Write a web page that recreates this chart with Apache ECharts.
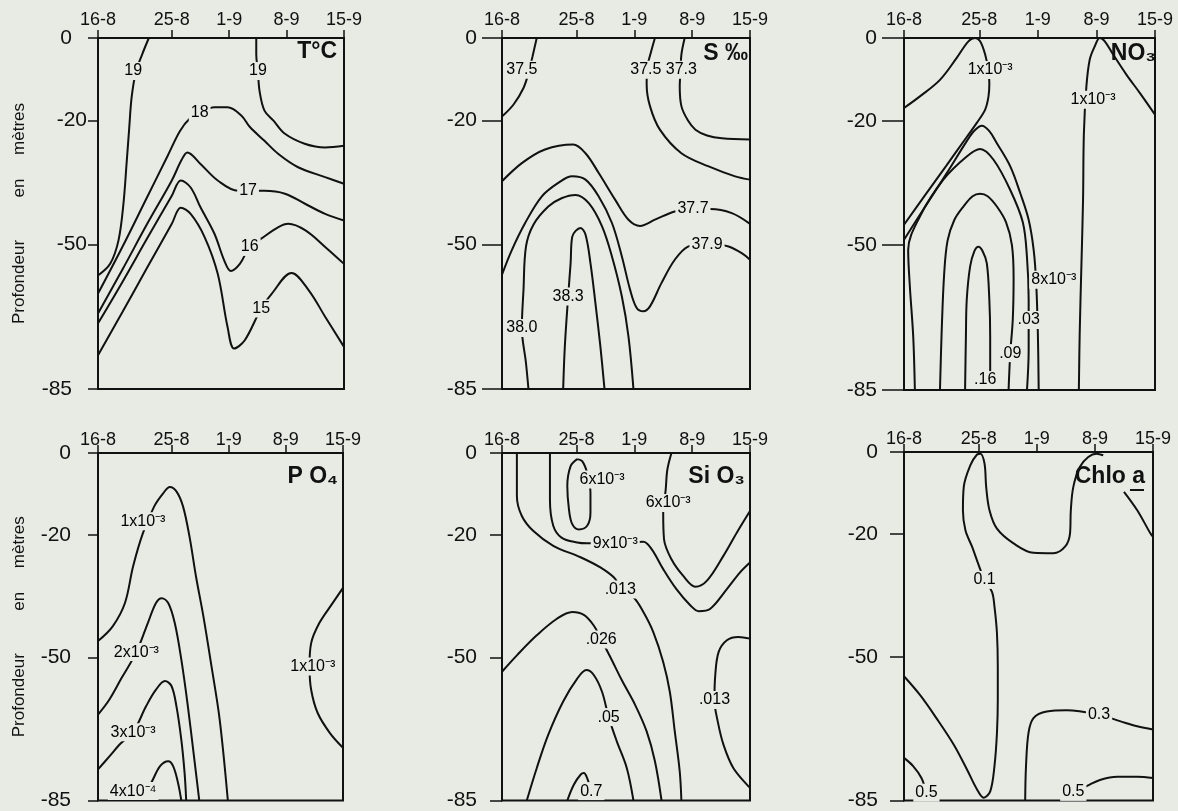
<!DOCTYPE html>
<html>
<head>
<meta charset="utf-8">
<script src="https://cdn.jsdelivr.net/npm/echarts@6/dist/echarts.min.js"></script>
<style>
html,body{margin:0;padding:0;background:#e8eae4;}
#chart{width:1178px;height:811px;}
</style>
</head>
<body>
<div id="chart"></div>
<script>
// ---- axis ticks (x = days since 16-8, y = depth in m) ----
const dayTicks = [0, 9, 16, 23, 30];
const dateLabels = ['16-8', '25-8', '1-9', '8-9', '15-9'];
const depthTicks = [0, -20, -50, -85];

// ---- Panel 1 : T°C ----
const t19a = [[6.2,0],[5.4,-3.9],[4.6,-8.4],[4.1,-14.4],[3.8,-22],[3.5,-30],[3.1,-40.2],[2.5,-49],[1.5,-54.6],[0,-57.5]];
const t19b = [[19.3,0],[19.3,-4],[19.5,-8],[19.7,-12.8],[20.3,-17.6],[21.4,-20],[22.8,-23.2],[25.2,-25.6],[27.7,-26.5],[30,-26.1]];
const t18 = [[0,-61.9],[3,-50.5],[6,-38.5],[8.5,-28.5],[10,-22.5],[11.2,-19.5],[12.5,-18],[14.2,-16.8],[15.8,-16.8],[17.5,-18.8],[18.5,-21.5],[20.3,-24.9],[22,-28.1],[24.4,-31.3],[27.7,-33.7],[30,-35.3]];
const t17 = [[0,-66.7],[3,-56],[6,-45],[9,-34.5],[10.2,-29.5],[10.9,-27.7],[12.5,-30.5],[14.6,-34.5],[17.1,-37],[20.3,-37],[22.8,-37.7],[25.3,-40.2],[27.7,-42.6],[30,-44.2]];
const t16 = [[0,-69.1],[3,-59],[6,-48.5],[9,-38.2],[10.1,-34.5],[11.3,-36.2],[12.5,-41],[14.2,-47.4],[15.4,-53.9],[16.2,-56.4],[17.3,-54.7],[18.5,-50.6],[19.9,-48.6],[22,-45.8],[23.2,-45],[25.3,-46.6],[27.7,-50.6],[30,-54.7]];
const t15 = [[0,-76.8],[3,-66.3],[6,-55.6],[9,-45],[10.1,-41.1],[11.3,-42.6],[13,-48.2],[14.6,-57.1],[15.8,-70],[16.6,-75.2],[17.9,-73.2],[19.9,-65.5],[21.2,-61.9],[23.6,-56.9],[25.7,-61.1],[27.7,-67.5],[30,-74.8]];
const tLabels = [[4.3,-8,'19'],[19.5,-8,'19'],[12.4,-18,'18'],[18.3,-37,'17'],[18.5,-50.6,'16'],[19.9,-65.5,'15']];

// ---- Panel 2 : S ‰ ----
const s375a = [[4.2,0],[3.7,-4.4],[3.2,-8.5],[2.6,-12.1],[1.4,-16.1],[0,-19]];
const s375b = [[18.5,0],[18,-3.6],[17.5,-8],[17.5,-11.3],[17.9,-16.5],[19.1,-22.2],[21.7,-27.9],[25,-31.1],[28.2,-33.5],[30,-34.3]];
const s373 = [[22.1,0],[21.7,-4],[21.6,-8],[21.5,-11.7],[21.7,-16.5],[22.5,-20],[23.4,-22.2],[24.8,-23.6],[26.6,-24.3],[30,-24.6]];
const s377 = [[0,-34.7],[2.4,-30.3],[5.2,-27],[8.6,-25.8],[10.1,-27.9],[11.7,-32.7],[13.7,-39.2],[15.3,-44],[16.7,-45.5],[18.5,-44],[20.9,-42],[23.1,-41.4],[25.2,-41.4],[27.8,-42.4],[30,-45]];
const s379 = [[0,-57.3],[1.2,-51.3],[2.8,-44.8],[4.8,-38.4],[6.8,-35.1],[8.5,-33.5],[10.1,-34.3],[11.7,-38.4],[13.3,-44.8],[14.5,-52.9],[15.5,-61],[16.3,-65.4],[17.1,-66.2],[17.9,-65],[19.3,-59.3],[20.9,-53.7],[22.5,-50.5],[25.2,-49.7],[27.4,-50.5],[29,-52.1],[30,-53.7]];
const s380 = [[3.2,-85],[2.9,-78.7],[2.4,-70.2],[2.6,-61],[2.9,-50.5],[3.8,-45.2],[5.6,-40.8],[7.2,-38.8],[8.9,-38],[10.5,-40],[12.1,-45.6],[13.3,-52.9],[14.5,-62.6],[15.3,-72.3],[15.9,-85]];
const s383 = [[7.4,-85],[7.6,-74.7],[8,-62.6],[8.3,-54.5],[8.5,-48.1],[9.5,-46],[10.1,-47.6],[10.7,-54.5],[11.3,-64.2],[11.9,-74.7],[12.4,-85]];
const sLabels = [[2.4,-7.7,'37.5'],[17.4,-7.7,'37.5'],[21.7,-7.7,'37.3'],[23.1,-41.4,'37.7'],[24.8,-50,'37.9'],[8,-62.6,'38.3'],[2.4,-70.2,'38.0']];

// ---- Panel 3 : NO3 ----
const n1a = [[0,-16.9],[1.9,-14.1],[4.3,-10.1],[6.3,-4.8],[7.7,-0.8],[8.5,0],[9.1,-0.8],[9.7,-4],[10.1,-8],[10.2,-11],[10.1,-14.1],[9.7,-17.3],[8.7,-20.5],[7.5,-23.9],[5,-31],[2.5,-38],[0,-45.1]];
const n1b = [[20.9,-85],[21,-71.3],[21.2,-55.2],[21.4,-39.1],[21.5,-23],[21.8,-11.7],[22.2,-5.2],[22.8,-2],[23.4,0],[24,-0.8],[25,-4],[26.6,-8.9],[28.2,-13.3],[30,-18.5]];
const n8 = [[0,-48.7],[2.5,-40.8],[5,-33],[7.5,-24.9],[8.4,-22.4],[9.3,-21.2],[10.2,-22.5],[11.1,-25.4],[12.7,-31],[13.9,-37.5],[14.9,-43.9],[15.5,-51.2],[15.8,-59.2],[16,-71.3],[16.1,-85]];
const n03 = [[1.3,-85],[1.1,-72],[0.7,-60],[0.5,-51.2],[1.9,-43.1],[4.7,-34.2],[7.5,-28.6],[9.1,-26.8],[10.7,-29.4],[12.7,-36.7],[14.2,-44.5],[14.7,-53],[14.9,-63.2],[14.9,-75.3],[14.7,-85]];
const n09 = [[4.3,-85],[4.5,-71],[4.8,-57],[5.2,-49],[6,-44],[7.1,-40.7],[8.2,-38.2],[9.1,-37.6],[10,-38.2],[11.1,-40.7],[12.2,-44.5],[12.9,-50],[13.1,-58],[13,-68],[12.7,-76.1],[12.5,-85]];
const n16 = [[7.3,-85],[7.4,-72],[7.5,-63.2],[7.9,-55.2],[8.4,-51.5],[8.9,-50.4],[9.4,-51.5],[9.9,-54.4],[10.2,-63.2],[10.3,-72],[10.3,-80],[10.3,-85]];
const nLabels = [[10.3,-7.7,'1x10\u207B\u00B3'],[22.6,-14.9,'1x10\u207B\u00B3'],[17.9,-58.4,'8x10\u207B\u00B3'],[14.9,-68.1,'.03'],[12.7,-76.1,'.09'],[9.7,-82.6,'.16']];

// ---- Panel 4 : PO4 ----
const p1a = [[0,-46],[1.8,-42.4],[3.3,-36.7],[4.3,-27.7],[5.5,-19.6],[6.9,-13],[8,-9.8],[8.8,-8.3],[9.6,-9.4],[10.4,-13],[11.2,-20.4],[12,-30.2],[12.9,-39.9],[13.9,-52.2],[14.9,-65.2],[15.9,-85]];
const p2 = [[0,-64],[1.4,-60.3],[2.9,-55],[4.7,-48.7],[6.1,-41.6],[7.1,-36.7],[7.8,-35.5],[8.6,-36.7],[9.4,-41.6],[10.2,-50.5],[11,-61.9],[11.8,-75],[12.4,-85]];
const p3 = [[0,-77.4],[1.4,-74.2],[2.8,-71],[4.3,-68.3],[5.9,-61.9],[7.1,-57.9],[8.2,-55.8],[9,-57],[9.6,-61.9],[10.2,-70.1],[10.6,-78.2],[10.8,-85]];
const p4 = [[4.7,-85],[5.5,-83.5],[6.5,-80.7],[7.6,-76.6],[8.6,-75.4],[9.2,-76.6],[9.8,-80.7],[10.2,-85]];
const p1b = [[30,-33],[28.6,-37.1],[27.1,-41.6],[26.1,-46.5],[25.9,-52.2],[26.1,-57.9],[26.9,-63.6],[28.4,-68.5],[30,-72.1]];
const pLabels = [[5.5,-16.7,'1x10\u207B\u00B3'],[4.7,-48.7,'2x10\u207B\u00B3'],[4.3,-68.3,'3x10\u207B\u00B3'],[4.3,-82.7,'4x10\u207B\u2074'],[26.3,-52.2,'1x10\u207B\u00B3']];

// ---- Panel 5 : SiO3 ----
const si013a = [[1.8,0],[1.8,-10.5],[2.4,-15.4],[3.8,-19.1],[6.2,-22.7],[9.5,-25.5],[11.9,-28],[13.7,-30.8],[14.3,-33.4],[15.9,-35.3],[17.1,-38.9],[18.3,-43.8],[19.5,-51.1],[20.3,-58.4],[20.9,-68.1],[21.5,-77.9],[21.7,-85]];
const si9 = [[5.8,0],[5.8,-11.4],[6.2,-17.8],[7.2,-20.7],[9.1,-21.9],[10.3,-22.1],[13.7,-22.1],[17.1,-21.7],[18.1,-23.5],[19.5,-28.4],[21.1,-33.3],[22.8,-37.3],[23.8,-38.7],[25.2,-38.1],[27.2,-33.3],[28.8,-29.2],[30,-26.8]];
const si6a = [[9.1,-1.5],[8.3,-3.2],[7.9,-8.1],[8.1,-13.8],[8.5,-17.4],[9.3,-18.7],[10.3,-17.8],[10.7,-14.6],[10.7,-9.7],[10.3,-4.9],[9.7,-2],[9.1,-1.5]];
const si6b = [[20.5,0],[20,-4.1],[19.8,-9],[19.5,-14.6],[19.6,-21.1],[20.5,-26],[21.9,-30],[23.4,-32.7],[24.8,-31.2],[26.8,-25.1],[28.4,-19.5],[30,-14.2]];
const si026 = [[0,-53.5],[1.8,-49.5],[4.2,-44.6],[6.6,-40.6],[8.5,-38.9],[9.9,-39.6],[11.1,-42.2],[12,-45.6],[13.1,-49.9],[14.5,-55.6],[16.1,-61.6],[17.5,-68.1],[18.5,-75.4],[19.3,-85]];
const si05 = [[3,-85],[4.2,-77.1],[5.6,-68.9],[7.4,-60.8],[9.1,-55.2],[10.2,-53.1],[11.1,-54.3],[12.1,-58.4],[12.9,-64.6],[13.9,-70.6],[15.1,-77.1],[15.9,-85]];
const si07 = [[7.9,-85],[8.7,-81.1],[9.5,-78.7],[9.9,-78.3],[10.3,-79.5],[10.8,-82.7],[11.1,-85]];
const si013b = [[30,-45.4],[28.6,-45],[27.2,-45.8],[26.2,-48.7],[25.8,-54.3],[25.7,-60.4],[26.1,-65.7],[26.8,-71.4],[28,-77.1],[30,-81.9]];
const siLabels = [[12.1,-6.5,'6x10\u207B\u00B3'],[20.1,-12.2,'6x10\u207B\u00B3'],[13.7,-22.1,'9x10\u207B\u00B3'],[14.3,-33.4,'.013'],[12,-45.6,'.026'],[12.9,-64.6,'.05'],[10.8,-82.7,'0.7'],[25.7,-60.4,'.013']];

// ---- Panel 6 : Chlo a ----
const c01a = [[0,-54.7],[1.9,-59.2],[3.9,-64.9],[6,-71.4],[7.6,-77.5],[8.8,-82.3],[9.6,-84.3],[10.4,-82.7],[10.9,-76.6],[11.2,-68.5],[11.3,-60.4],[11.3,-52.3],[11.2,-44.2],[10.9,-37.7],[10.6,-34.1],[9.7,-31.2],[9,-27.6],[8.2,-23.1],[7.4,-19.1],[7.1,-14.2],[7.2,-8.5],[8,-3.2],[8.8,-0.6],[9.2,-0.4],[9.7,-2.8],[9.9,-8.5],[10.3,-14.2],[11.2,-18.7],[13.2,-22.3],[15.6,-24.6],[18,-24.7],[19.4,-23.1],[20,-19.9],[20.1,-14.2],[20.4,-8.5],[21.2,-3.6],[22.2,-1.2],[23.2,-0.4],[24,-0.8]];
const c01b = [[26.5,-9.7],[28.1,-14.2],[29.7,-19.9],[30,-20.7]];
const c05a = [[0,-74.6],[1.1,-76.6],[2.1,-79.5],[2.7,-83.1],[2.9,-85]];
const c03 = [[14.6,-85],[14.7,-76.6],[15,-68.5],[15.6,-64.9],[17.2,-63.3],[19.6,-63],[23.5,-64.1],[26.1,-65.7],[28.1,-66.9],[30,-67.7]];
const c05b = [[20.4,-82.9],[22,-81.5],[23.6,-80],[25.7,-79.2],[28.1,-79.2],[30,-79.5]];
const cLabels = [[9.7,-31.2,'0.1'],[2.7,-83.1,'0.5'],[23.5,-64.1,'0.3'],[20.4,-82.9,'0.5']];

// ---- assembly ----
const PAPER = '#e8eae4';
const INK = '#111111';
const FONT = "'Liberation Sans', Arial, sans-serif";

const panels = [
  {lines: [t19a, t19b, t18, t17, t16, t15], labels: tLabels},
  {lines: [s375a, s375b, s373, s377, s379, s380, s383], labels: sLabels},
  {lines: [n1a, n1b, n8, n03, n09, n16], labels: nLabels},
  {lines: [p1a, p2, p3, p4, p1b], labels: pLabels},
  {lines: [si013a, si9, si6a, si6b, si026, si05, si07, si013b], labels: siLabels},
  {lines: [c01a, c01b, c05a, c03, c05b], labels: cLabels}
];

const layout = [
  {left: 98, top: 38, width: 246, height: 351, tickLen: 10, margin: 11, xMargin: 9, special: true, name: true},
  {left: 502, top: 38, width: 248, height: 351, tickLen: 20, margin: 25, xMargin: 9},
  {left: 904, top: 38, width: 251, height: 352, tickLen: 22, margin: 27, xMargin: 9},
  {left: 98, top: 453, width: 245, height: 348, tickLen: 10, margin: 27, xMargin: 4, name: true},
  {left: 502, top: 453, width: 248, height: 349, tickLen: 12, margin: 25, xMargin: 4},
  {left: 904, top: 452, width: 249, height: 349, tickLen: 14, margin: 26, xMargin: 4}
];

const grid = [], xAxis = [], yAxis = [], series = [];
layout.forEach((g, i) => {
  grid.push({left: g.left, top: g.top, width: g.width, height: g.height,
    show: true, borderColor: INK, borderWidth: 2, backgroundColor: 'transparent', containLabel: false});
  xAxis.push({
    gridIndex: i, type: 'value', position: 'top', min: 0, max: 30,
    axisLine: {show: true, lineStyle: {color: INK, width: 2}},
    axisTick: {show: true, inside: false, length: 8, customValues: dayTicks, lineStyle: {color: INK, width: 1.5}},
    axisLabel: {show: true, customValues: dayTicks, margin: g.xMargin, color: INK, fontSize: 18, fontFamily: FONT,
      formatter: v => dateLabels[dayTicks.indexOf(v)] || ''},
    splitLine: {show: false}
  });
  yAxis.push({
    gridIndex: i, type: 'value', min: -85, max: 0,
    name: g.name ? 'Profondeur         en     mètres' : '',
    nameLocation: 'middle', nameGap: 70,
    nameTextStyle: {color: INK, fontSize: 17, fontFamily: FONT},
    axisLine: {show: true, lineStyle: {color: INK, width: 2}},
    axisTick: {show: true, inside: false, length: g.tickLen, customValues: depthTicks, lineStyle: {color: INK, width: 1.5}},
    axisLabel: {show: true, customValues: depthTicks, margin: g.margin, color: INK, fontSize: 21, fontFamily: FONT,
      formatter: v => g.special && (v === 0 || v === -85) ? '{f|' + v + '}' : String(v),
      rich: {f: {fontSize: 21, fontFamily: FONT, color: INK, padding: [0, 15, 0, 0]}}},
    splitLine: {show: false}
  });
  panels[i].lines.forEach(arr => {
    series.push({type: 'line', xAxisIndex: i, yAxisIndex: i, data: arr, smooth: 0.35,
      symbol: 'none', silent: true, z: 2, lineStyle: {color: INK, width: 2}});
  });
  series.push({type: 'scatter', xAxisIndex: i, yAxisIndex: i, z: 5, silent: true,
    symbolSize: 0.1, itemStyle: {color: PAPER, opacity: 1},
    data: panels[i].labels.map(l => ({value: [l[0], l[1]], name: l[2]})),
    label: {show: true, position: 'inside', formatter: p => p.name, color: '#000', opacity: 1,
      textBorderWidth: 0, textShadowBlur: 0,
      fontSize: 16, fontFamily: FONT, backgroundColor: PAPER, padding: [1, 2]}
  });
});

const titleStyle = (text, x, y) => ({type: 'text', x: x, y: y, z: 10, silent: true,
  style: {text: text, fill: INK, fontSize: 23, fontWeight: 'bold', fontFamily: FONT,
    align: 'right', verticalAlign: 'top', textAlign: 'right', textVerticalAlign: 'top'}});

const graphic = [
  titleStyle('T°C', 337, 40),
  titleStyle('S ‰', 748, 42),
  titleStyle('NO\u2083', 1156, 42),
  titleStyle('P O\u2084', 338, 465),
  titleStyle('Si O\u2083', 745, 465),
  titleStyle('Chlo a', 1145, 465),
  {type: 'line', z: 10, silent: true, shape: {x1: 1130, y1: 490, x2: 1144, y2: 490}, style: {stroke: INK, lineWidth: 2}}
];

const chart = echarts.init(document.getElementById('chart'), null, {renderer: 'canvas'});
chart.setOption({
  backgroundColor: PAPER,
  animation: false,
  grid: grid, xAxis: xAxis, yAxis: yAxis, series: series, graphic: graphic
});
</script>
</body>
</html>
